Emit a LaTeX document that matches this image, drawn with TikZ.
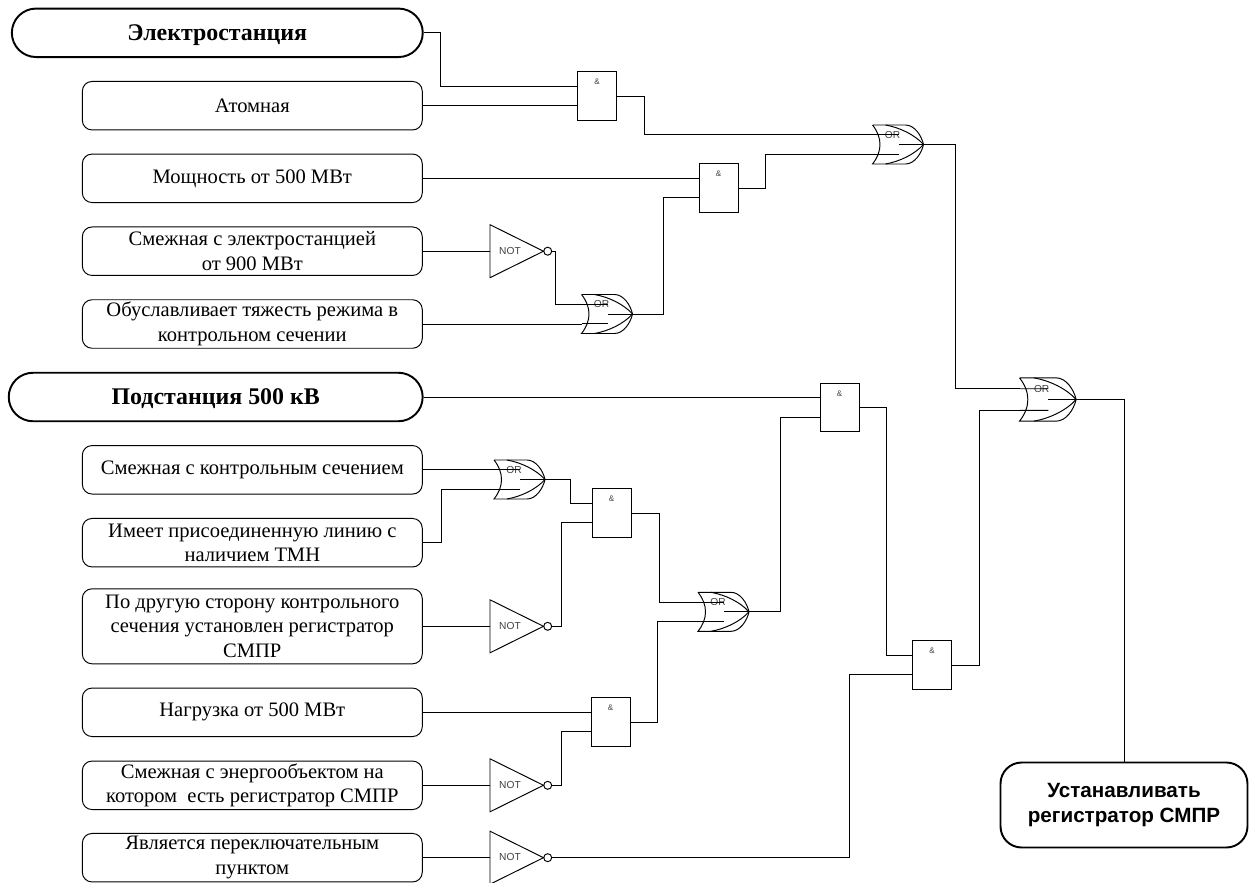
\documentclass[tikz,border=0pt]{standalone}
\usepackage{fontspec}
\setmainfont{Liberation Serif}
\setsansfont{Liberation Sans}
\begin{document}
\begin{tikzpicture}[x=0.02cm, y=-0.02cm, line width=0.55pt,
  box/.style={draw, rounded corners=5.5pt, minimum width=6.8cm, minimum height=0.97cm, inner sep=0pt, align=center, font=\fontsize{11.7}{14}\selectfont},
  head/.style={draw, line width=1.1pt, rounded corners=13.8pt, minimum height=0.97cm, inner sep=1pt, text height=10.5pt, text depth=2pt, font=\fontsize{13.6}{16}\selectfont\bfseries},
  result/.style={draw, line width=1.1pt, rounded corners=12pt, minimum width=4.94cm, minimum height=1.7cm, inner sep=1pt, align=center, font=\fontsize{11.75}{14.2}\selectfont\sffamily\bfseries},
  gatetext/.style={text=black!75, inner sep=0pt, font=\fontsize{5.8}{6}\selectfont\sffamily},
  andgate/.pic={
    \node[draw, minimum width=0.78cm, minimum height=0.97cm, inner sep=0pt] (-box) at (19.5,0) {};
    \node[gatetext, font=\fontsize{4.6}{5}\selectfont\sffamily] (-t) at (19.5,-14) {\&};
    \coordinate (-in1) at (0,-9.7);
    \coordinate (-in2) at (0,9.7);
    \coordinate (-out) at (39,0);
  },
  orgate/.pic={
    \draw (0,-19.5) -- (33,-19.5) .. controls (42,-19.5) and (49,-9) .. (51,0) .. controls (49,9) and (42,19.5) .. (33,19.5) -- (0,19.5) .. controls (10,7) and (10,-7) .. (0,-19.5);
    \draw (13,-19.5) .. controls (27,-17) and (42,-10) .. (51,0) .. controls (42,10) and (27,17) .. (13,19.5);
    \node[gatetext] (-t) at (20,-9.7) {OR};
    \coordinate (-in1) at (0,-9.7);
    \coordinate (-in2) at (0,9.7);
    \coordinate (-out) at (51,0);
    \draw (-in1) -- (26,-9.7);
    \draw (-in2) -- (26,9.7);
    \draw (26,0) -- (-out);
  },
  notgate/.pic={
    \draw (0,-26.5) -- (53.5,0) -- (0,26.5) -- cycle;
    \draw (57.7,0) circle (4);
    \node[gatetext] (-t) at (20,-0.5) {NOT};
    \coordinate (-in) at (0,0);
    \coordinate (-out) at (61.7,0);
  }]
  \useasboundingbox (0,0) rectangle (1249,883);

  \node[head, minimum width=8.22cm] (plant) at (217.3,32.8) {Электростанция};
  \node[box] (atom) at (252.3,105.7) {Атомная};
  \node[box] (power) at (252.3,178.3) {Мощность от 500 МВт};
  \node[box] (near) at (252.3,251.2) {Смежная с электростанцией\\от 900 МВт};
  \node[box] (mode) at (252.3,324) {Обуславливает тяжесть режима в\\контрольном сечении};
  \node[head, minimum width=8.28cm] (sub) at (215.7,397) {Подстанция 500 кВ};
  \node[box] (cut) at (252.3,469.8) {Смежная с контрольным сечением};
  \node[box] (tmn) at (252.3,542.7) {Имеет присоединенную линию с\\наличием ТМН};
  \node[box, minimum height=1.5cm] (other) at (252.3,626.3) {По другую сторону контрольного\\сечения установлен регистратор\\СМПР};
  \node[box] (load) at (252.3,712.3) {Нагрузка от 500 МВт};
  \node[box] (obj) at (252.3,785.3) {Смежная с энергообъектом на\\котором\ \ есть регистратор СМПР};
  \node[box] (sw) at (252.3,857.7) {Является переключательным\\пунктом};
  \node[result] (final) at (1124,805) {Устанавливать\\регистратор СМПР};

  \pic (a1) at (577.5,96) {andgate};
  \pic (a2) at (699,188) {andgate};
  \pic (a3) at (820,407.5) {andgate};
  \pic (a4) at (592,513) {andgate};
  \pic (a5) at (591,722) {andgate};
  \pic (a6) at (912.5,665) {andgate};

  \pic (o1) at (872.5,144.5) {orgate};
  \pic (o2) at (581.5,314) {orgate};
  \pic[scale=1.11] (o3) at (1019.5,399.5) {orgate};
  \pic (o4) at (494,479.5) {orgate};
  \pic (o5) at (698,611.8) {orgate};

  \pic (n1) at (490,251.2) {notgate};
  \pic (n2) at (490,626.3) {notgate};
  \pic (n3) at (490,785.3) {notgate};
  \pic (n4) at (490,857.7) {notgate};

  \draw (plant.east) -- ++(17,0) |- (a1-in1);
  \draw (atom.east) -- (atom.east -| a1-in2);
  \draw (a1-out) -- ++(28,0) |- (o1-in1);
  \draw (power.east) -- (power.east -| a2-in1);
  \draw (a2-out) -- ++(27,0) |- (o1-in2);
  \draw (near.east) -- (n1-in);
  \draw (n1-out) -- ++(4,0) |- (o2-in1);
  \draw (mode.east) -- (mode.east -| o2-in2);
  \draw (o2-out) -- ++(31,0) |- (a2-in2);
  \draw (o1-out) -- ++(32,0) |- (o3-in1);
  \draw (sub.east) -- (sub.east -| a3-in1);
  \draw (a3-out) -- ++(27,0) |- (a6-in1);
  \draw (o5-out) -- ++(31,0) |- (a3-in2);
  \draw (a6-out) -- ++(27.5,0) |- (o3-in2);
  \draw (o3-out) -| (final.north);
  \draw (cut.east) -- (cut.east -| o4-in1);
  \draw (tmn.east) -- ++(19,0) |- (o4-in2);
  \draw (o4-out) -- ++(25,0) |- (a4-in1);
  \draw (a4-out) -- ++(28,0) |- (o5-in1);
  \draw (other.east) -- (n2-in);
  \draw (n2-out) -- ++(10,0) |- (a4-in2);
  \draw (load.east) -- (load.east -| a5-in1);
  \draw (a5-out) -- ++(27.3,0) |- (o5-in2);
  \draw (obj.east) -- (n3-in);
  \draw (n3-out) -- ++(10,0) |- (a5-in2);
  \draw (sw.east) -- (n4-in);
  \draw (n4-out) -- ++(297.6,0) |- (a6-in2);
\end{tikzpicture}
\end{document}
